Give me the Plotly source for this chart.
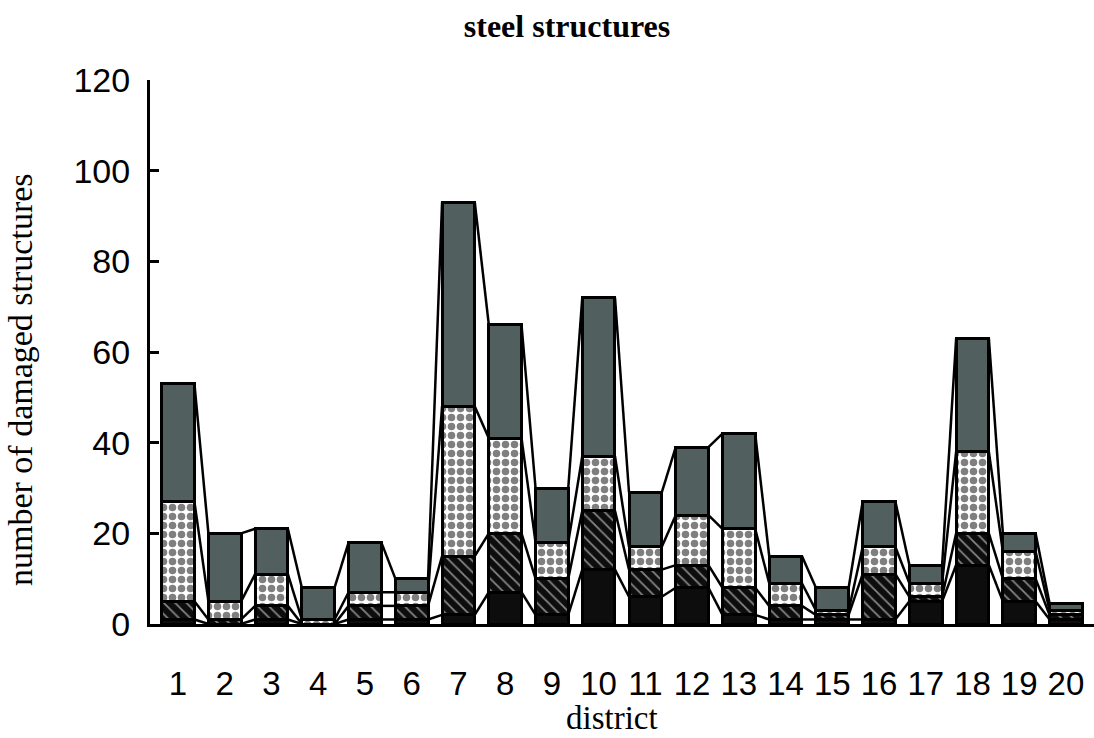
import plotly.graph_objects as go

districts = list(range(1, 21))
tick_labels = [str(d) for d in districts]
# segment values (bottom to top)
black_seg   = [1, 0, 1, 0, 1, 1, 2, 7, 2, 12, 6, 8, 2, 1, 1, 1, 5, 13, 5, 1]
hatched_seg = [4, 1, 3, 0, 3, 3, 13, 13, 8, 13, 6, 5, 6, 3, 1, 10, 1, 7, 5, 1]
dotted_seg  = [22, 4, 7, 1, 3, 3, 33, 21, 8, 12, 5, 11, 13, 5, 1, 6, 3, 18, 6, 1]
gray_seg    = [26, 15, 10, 7, 11, 3, 45, 25, 12, 35, 12, 15, 21, 6, 5, 10, 4, 25, 4, 1.5]

BAR_W = 0.7

fig = go.Figure()
line_style = dict(color="black", width=3)

fig.add_trace(go.Bar(x=districts, y=black_seg, width=BAR_W,
                     marker=dict(color="#0d0d0d", line=line_style), name="black"))
fig.add_trace(go.Bar(x=districts, y=hatched_seg, width=BAR_W,
                     marker=dict(color="#0d0d0d", line=line_style,
                                 pattern=dict(shape="\\", fgcolor="white", bgcolor="#0d0d0d",
                                              size=8, solidity=0.22)), name="hatched"))
fig.add_trace(go.Bar(x=districts, y=dotted_seg, width=BAR_W,
                     marker=dict(color="white", line=line_style,
                                 pattern=dict(shape=".", fgcolor="black", bgcolor="white",
                                              size=9, solidity=0.55)), name="dotted"))
fig.add_trace(go.Bar(x=districts, y=gray_seg, width=BAR_W,
                     marker=dict(color="#515f5f", line=line_style), name="gray"))

# series lines connecting cumulative levels between adjacent bars
cum = [0] * len(districts)
for seg in [black_seg, hatched_seg, dotted_seg, gray_seg]:
    cum = [c + s for c, s in zip(cum, seg)]
    xs, ys = [], []
    for i in range(len(districts) - 1):
        xs += [districts[i] + BAR_W / 2, districts[i + 1] - BAR_W / 2, None]
        ys += [cum[i], cum[i + 1], None]
    fig.add_trace(go.Scatter(x=xs, y=ys, mode="lines",
                             line=dict(color="black", width=2.5), hoverinfo="skip"))

fig.update_layout(
    barmode="stack",
    showlegend=False,
    width=1094, height=738,
    margin=dict(l=150, r=0, t=80, b=114),
    paper_bgcolor="white", plot_bgcolor="white",
    title=dict(text="<b>steel structures</b>", x=567/1094, xref="container",
               y=0.965, yref="container", yanchor="middle", xanchor="center",
               font=dict(family="Liberation Serif", size=32, color="black")),
    font=dict(family="Liberation Sans", color="black"),
    annotations=[
        dict(text="district", xref="paper", yref="paper", x=0.489, y=-0.1728,
             xanchor="center", yanchor="middle", showarrow=False,
             font=dict(family="Liberation Serif", size=33, color="black")),
        dict(text="number of damaged structures", xref="paper", yref="paper",
             x=-0.1377, y=0.4485, textangle=-90, xanchor="center", yanchor="middle",
             showarrow=False,
             font=dict(family="Liberation Serif", size=34, color="black")),
    ],
)

fig.update_xaxes(
    range=[0.4, 20.6], tickmode="array", tickvals=districts, ticktext=tick_labels,
    showline=True, linecolor="black", linewidth=3, ticks="",
    showgrid=False, zeroline=False,
    tickfont=dict(family="Liberation Sans", size=33, color="black"),
    ticklabelstandoff=28,
)
fig.update_yaxes(
    range=[0, 120], tickvals=[0, 20, 40, 60, 80, 100, 120],
    showline=True, linecolor="black", linewidth=3,
    ticks="inside", ticklen=9, tickwidth=3, tickcolor="black",
    showgrid=False, zeroline=False,
    tickfont=dict(family="Liberation Sans", size=34, color="black"),
    ticklabelstandoff=10,
)

fig.write_html("out.html", config={"displayModeBar": False},
               post_script="document.body.style.margin='0';")
